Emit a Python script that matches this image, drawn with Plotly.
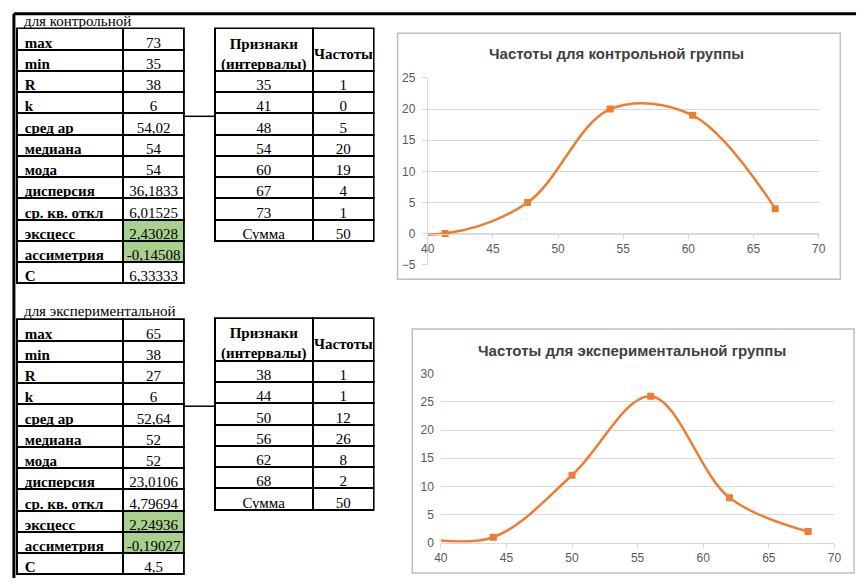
import plotly.graph_objects as go

W, H = 865, 585

# ---- statistics: control group ----
stat_names = ["max", "min", "R", "k", "сред ар", "медиана", "мода", "дисперсия",
              "ср. кв. откл", "эксцесс", "ассиметрия", "C"]
ctrl_stat_values = [73, 35, 38, 6, 54.02, 54, 54, 36.1833, 6.01525, 2.43028, -0.14508, 6.33333]
ctrl_intervals = [35, 41, 48, 54, 60, 67, 73]
ctrl_freq = [1, 0, 5, 20, 19, 4, 1]
ctrl_total = 50
ctrl_chart_x = [35, 41.33, 47.67, 54, 60.33, 66.67]
ctrl_chart_y = [1, 0, 5, 20, 19, 4]

# ---- statistics: experimental group ----
exp_stat_values = [65, 38, 27, 6, 52.64, 52, 52, 23.0106, 4.79694, 2.24936, -0.19027, 4.5]
exp_intervals = [38, 44, 50, 56, 62, 68]
exp_freq = [1, 1, 12, 26, 8, 2]
exp_total = 50
exp_chart_x = [38, 44, 50, 56, 62, 68]
exp_chart_y = [1, 1, 12, 26, 8, 2]

freq_header = ["Признаки<br>(интервалы)", "Частоты"]
sum_label = "Сумма"

ORANGE = "#ED7D31"
GREEN = "#A9D08E"
GRID = "#D9D9D9"
TICK = "#595959"
SERIF = "Liberation Serif"
SANS = "Liberation Sans"
ROW = 21.25
TFONT = 15
LIFT = 5  # plotly offsets table rows downward inside the domain

STATS_X = (12, 119, 180)
FREQ_X = (211, 311, 373)


def px(x):
    return x / W


def py(y):
    return max(0.0, min(1.0, 1 - y / H))


def fmt(v):
    return str(v).replace(".", ",")


def stats_table(values, top):
    vals = [fmt(v) for v in values]
    val_fill = ["white"] * 9 + [GREEN, GREEN] + ["white"]
    n = len(stat_names)
    font = dict(family=SERIF, size=TFONT, color="black", weight=["bold", "normal"])
    x0, xm, x1 = STATS_X
    return go.Table(
        domain=dict(x=[px(x0 - 2), px(x1)], y=[py(top + ROW * n + 20), py(top - LIFT)]),
        columnwidth=[xm - x0, x1 - xm],
        header=dict(values=[stat_names[0], vals[0]], height=ROW,
                    align=["left", "center"],
                    line=dict(color="black", width=2), fill_color="white",
                    font=font),
        cells=dict(values=[stat_names[1:], vals[1:]], height=ROW,
                   align=["left", "center"],
                   line=dict(color="black", width=2),
                   fill_color=[["white"] * (n - 1), val_fill[1:]],
                   font=font),
    )


def freq_table(intervals, freq, total, top):
    col1 = [str(v) for v in intervals] + [sum_label]
    col2 = [str(v) for v in freq] + [str(total)]
    n = len(col1)
    x0, xm, x1 = FREQ_X
    return go.Table(
        domain=dict(x=[px(x0), px(x1)], y=[py(top + 2 * ROW + ROW * n + 30), py(top - LIFT)]),
        columnwidth=[xm - x0, x1 - xm],
        # header captions are placed as annotations so the header keeps its height
        header=dict(values=["", ""], height=2 * ROW, align="center",
                    line=dict(color="black", width=2), fill_color="white"),
        cells=dict(values=[col1, col2], height=ROW, align="center",
                   line=dict(color="black", width=2), fill_color="white",
                   font=dict(family=SERIF, size=TFONT, color="black")),
    )


def freq_header_notes(top):
    x0, xm, x1 = FREQ_X
    yc = py(top + ROW)
    return [
        dict(text=freq_header[0], x=px((x0 + xm) / 2), y=yc),
        dict(text=freq_header[1], x=px((xm + x1) / 2), y=yc),
    ]


fig = go.Figure()
fig.add_trace(stats_table(ctrl_stat_values, 27))
fig.add_trace(freq_table(ctrl_intervals, ctrl_freq, ctrl_total, 27))
fig.add_trace(stats_table(exp_stat_values, 325))
fig.add_trace(freq_table(exp_intervals, exp_freq, exp_total, 324))

line_style = dict(color=ORANGE, width=2.5, shape="spline", smoothing=1)
marker_style = dict(symbol="square", size=7, color=ORANGE)
fig.add_trace(go.Scatter(x=ctrl_chart_x, y=ctrl_chart_y, mode="lines+markers",
                         line=line_style, marker=marker_style,
                         xaxis="x", yaxis="y", showlegend=False))
fig.add_trace(go.Scatter(x=exp_chart_x, y=exp_chart_y, mode="lines+markers",
                         line=line_style, marker=marker_style,
                         xaxis="x2", yaxis="y2", showlegend=False))

# chart 1 plot area
c1_y0, c1_y1 = py(264), py(72.7)
c1_range = [-5, 25]
zero_pos = c1_y0 + (0 - c1_range[0]) / (c1_range[1] - c1_range[0]) * (c1_y1 - c1_y0)

tickfont = dict(family=SANS, size=12, color=TICK)
fig.update_layout(
    width=W, height=H, margin=dict(l=0, r=0, t=0, b=0),
    paper_bgcolor="white", plot_bgcolor="white", showlegend=False,
    xaxis=dict(domain=[px(427.7), px(825)], range=[40, 70], dtick=5,
               anchor="free", position=zero_pos, showline=True, linecolor=GRID,
               linewidth=1, ticks="outside", ticklen=4, tickcolor=GRID,
               showgrid=False, zeroline=False, tickfont=tickfont),
    yaxis=dict(domain=[c1_y0, c1_y1], range=c1_range, dtick=5, anchor="x",
               showline=True, linecolor=GRID, ticks="outside", ticklen=5,
               tickcolor=GRID, gridcolor=GRID, zeroline=False,
               tickfont=tickfont, ticklabelstandoff=4),
    xaxis2=dict(domain=[px(441), px(841)], range=[40, 70], dtick=5,
                anchor="y2", showline=True, linecolor=GRID, ticks="outside",
                ticklen=4, tickcolor=GRID, showgrid=False, zeroline=False,
                tickfont=tickfont),
    yaxis2=dict(domain=[py(549), py(375.7)], range=[0, 30], dtick=5,
                anchor="x2", showline=False, ticks="", gridcolor=GRID,
                zeroline=False, tickfont=tickfont, ticklabelstandoff=6),
)

shapes = [
    # sheet frame lines
    dict(type="line", xref="paper", yref="paper", x0=px(7), x1=px(863), y0=py(7), y1=py(7),
         line=dict(color="black", width=3)),
    dict(type="line", xref="paper", yref="paper", x0=px(7), x1=px(7), y0=py(7), y1=py(585),
         line=dict(color="black", width=3)),
    # cell borders linking the tables
    dict(type="line", xref="paper", yref="paper", x0=px(180), x1=px(211), y0=py(112), y1=py(112),
         line=dict(color="black", width=1.5)),
    dict(type="line", xref="paper", yref="paper", x0=px(180), x1=px(211), y0=py(409), y1=py(409),
         line=dict(color="black", width=1.5)),
    # chart frames
    dict(type="rect", xref="paper", yref="paper", x0=px(397), x1=px(847), y0=py(279), y1=py(27),
         line=dict(color="#BFBFBF", width=1.5)),
    dict(type="rect", xref="paper", yref="paper", x0=px(412), x1=px(861), y0=py(580), y1=py(330),
         line=dict(color="#BFBFBF", width=1.5)),
]
fig.update_layout(shapes=shapes)

header_font = dict(family=SERIF, size=TFONT, color="black", weight="bold")
annotations = [
    dict(text="для контрольной", x=px(15), y=py(14), xanchor="left", yanchor="middle",
         font=dict(family=SERIF, size=TFONT, color="black")),
    dict(text="для экспериментальной", x=px(15), y=py(311), xanchor="left", yanchor="middle",
         font=dict(family=SERIF, size=TFONT, color="black")),
    dict(text="<b>Частоты для контрольной группы</b>", x=px(620), y=py(48),
         xanchor="center", yanchor="middle",
         font=dict(family=SANS, size=15, color="#404040")),
    dict(text="<b>Частоты для экспериментальной группы</b>", x=px(635), y=py(352),
         xanchor="center", yanchor="middle",
         font=dict(family=SANS, size=15, color="#404040")),
]
for note in freq_header_notes(27) + freq_header_notes(324):
    note.update(xanchor="center", yanchor="middle", font=header_font)
    annotations.append(note)
for a in annotations:
    a.update(xref="paper", yref="paper", showarrow=False)
fig.update_layout(annotations=annotations)

fig.write_html("out.html")
